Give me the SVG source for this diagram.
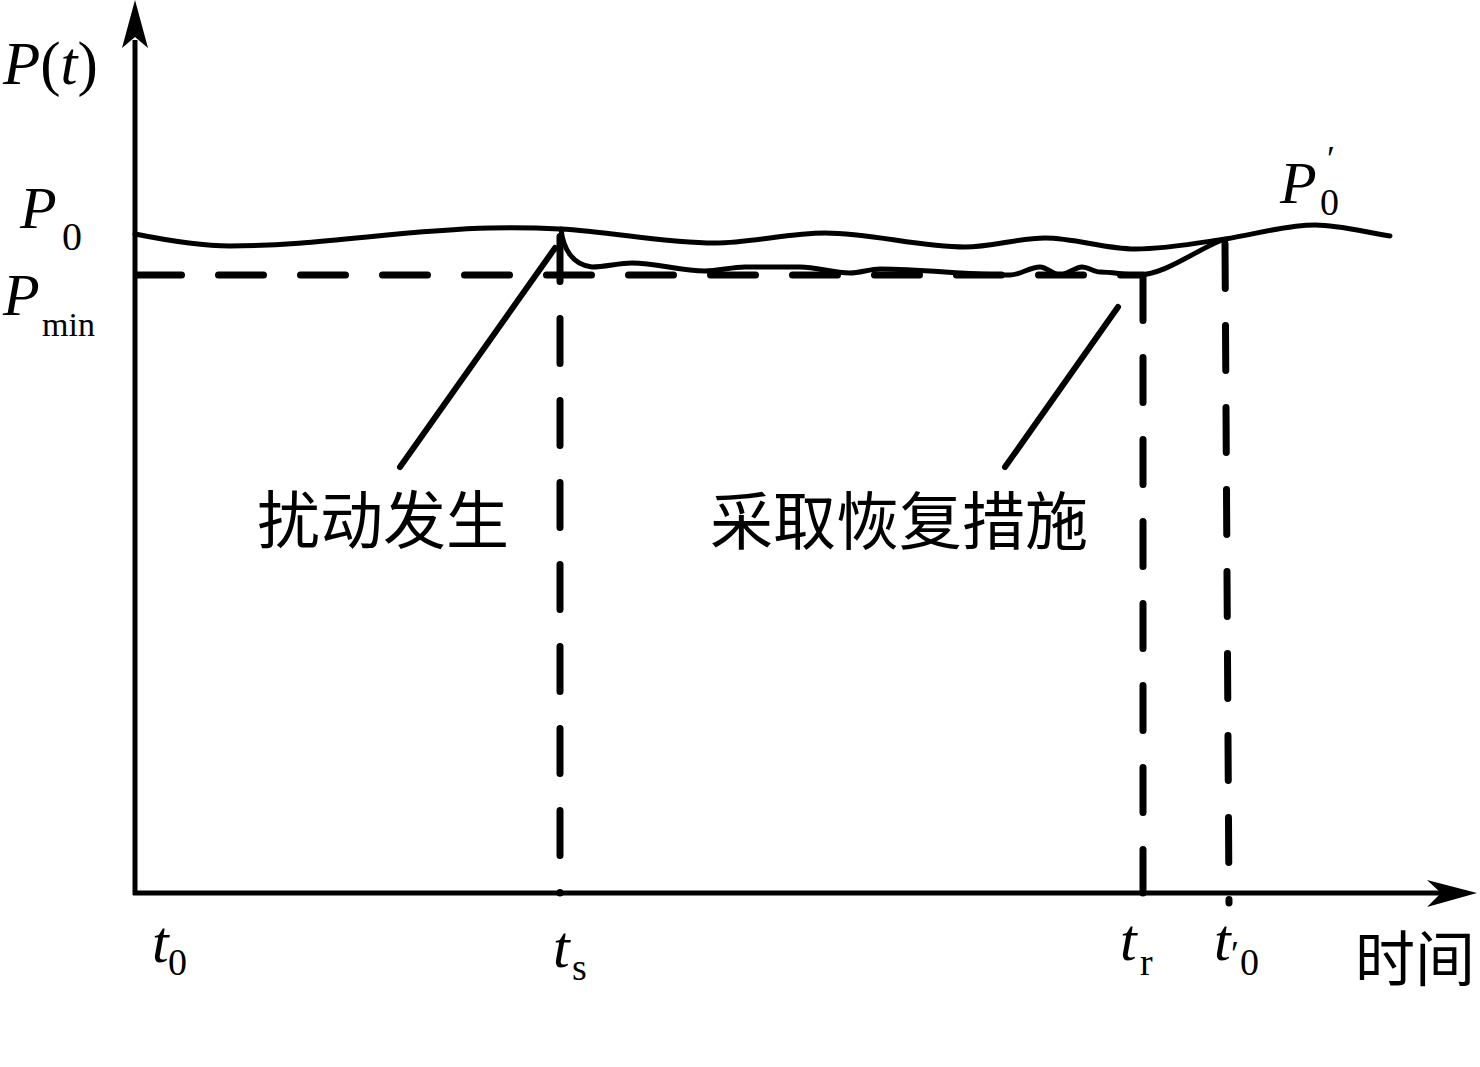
<svg xmlns="http://www.w3.org/2000/svg" width="1480" height="1067" viewBox="0 0 1480 1067">
<style>
.ax{stroke:#000;stroke-width:5;fill:none}
.cv{stroke:#000;stroke-width:5;fill:none;stroke-linecap:round;stroke-linejoin:round}
.ds{stroke:#000;stroke-width:7;fill:none;stroke-linecap:round;stroke-dasharray:45 37}
.ld{stroke:#000;stroke-width:6;fill:none;stroke-linecap:round}
.tx{font-family:"Liberation Serif","Times New Roman",serif;fill:#000}
.it{font-style:italic}
.cj{font-family:"Noto Sans CJK SC","Noto Sans CJK JP",sans-serif;fill:#000}
</style>
<rect width="1480" height="1067" fill="#fff"/>
<g id="axes">
<line class="ax" x1="135" y1="895" x2="135" y2="40"/>
<polygon points="135,0 148,48 135,37 122,48" fill="#000"/>
<line class="ax" x1="133" y1="893" x2="1445" y2="893"/>
<polygon points="1477,893 1427,907 1441,893 1427,880" fill="#000"/>
</g>
<g id="guides">
<line class="ds" x1="136.5" y1="275" x2="1143" y2="275"/>
<line class="ds" x1="560" y1="236.5" x2="560" y2="893"/>
<line class="ds" x1="1143" y1="275.5" x2="1143" y2="893"/>
<line class="ds" x1="1225" y1="243.5" x2="1229" y2="903"/>
</g>
<g id="curve-p0">
<path class="cv" d="M135,234 C166.7,240.3 198.3,246 230,246 C316.7,246 403.3,229.7 490,228 C513.3,227.5 536.7,227.8 560,229 C611.7,231.6 663.3,243 715,243 C751.7,243 788.3,233 825,233 C871.7,233 918.3,247 965,247 C991.7,247 1018.3,238 1045,238 C1075,238 1105,249 1135,249 C1165,249 1195,243.5 1225,239 C1255,234.5 1285,225 1315,225 C1340,225 1365,232.3 1390,236"/>
</g>
<g id="curve-disturbed">
<path class="cv" d="M561,229 C563,248 572,265 592,267 C605,267 619,263 632,263 C656,263 681,271 705,271 C718,271 732,267 745,267 C763,267 782,267 800,267 C817,267 833,273 850,273 C860,273 870,269 880,269 C923,269 967,275 1010,275 C1020,275 1030,267 1040,267 C1047,267 1053,275 1060,275 C1067,275 1075,267 1082,267 C1088,267 1094,272 1100,272 C1112,272 1125,275 1137,275 C1165,275 1194,251 1222,240"/>
</g>
<g id="connectors">
<line class="ld" x1="400" y1="467" x2="555" y2="248"/>
<line class="ld" x1="1005" y1="467" x2="1118" y2="307"/>
</g>
<g id="label-pt">
<text class="tx" x="3" y="84" font-size="61"><tspan class="it">P</tspan>(<tspan class="it">t</tspan>)</text>
</g>
<g id="label-p0">
<text class="tx it" x="20" y="228" font-size="60">P</text>
<text class="tx" x="62" y="250" font-size="40">0</text>
</g>
<g id="label-pmin">
<text class="tx it" x="3" y="315" font-size="60">P</text>
<text class="tx" x="42" y="336" font-size="34">min</text>
</g>
<g id="label-p0prime">
<text class="tx it" x="1280" y="203" font-size="60">P</text>
<text class="tx" x="1320" y="215" font-size="38">0</text>
<text class="tx" x="1327" y="171" font-size="36">′</text>
</g>
<g id="label-t0">
<text class="tx it" x="152" y="962" font-size="60">t</text>
<text class="tx" x="168" y="975" font-size="38">0</text>
</g>
<g id="label-ts">
<text class="tx it" x="553" y="967" font-size="60">t</text>
<text class="tx" x="572" y="980" font-size="38">s</text>
</g>
<g id="label-tr">
<text class="tx it" x="1120" y="960" font-size="60">t</text>
<text class="tx" x="1140" y="975" font-size="38">r</text>
</g>
<g id="label-t0prime">
<text class="tx it" x="1214" y="960" font-size="60">t</text>
<text class="tx" x="1231" y="966" font-size="36">′</text>
<text class="tx" x="1240" y="975" font-size="38">0</text>
</g>
<g id="label-time">
<text class="cj" x="1355" y="981" font-size="60">时间</text>
</g>
<g id="label-disturb">
<text class="cj" x="257" y="543" font-size="63">扰动发生</text>
</g>
<g id="label-recover">
<text class="cj" x="710" y="544" font-size="63">采取恢复措施</text>
</g>
</svg>
